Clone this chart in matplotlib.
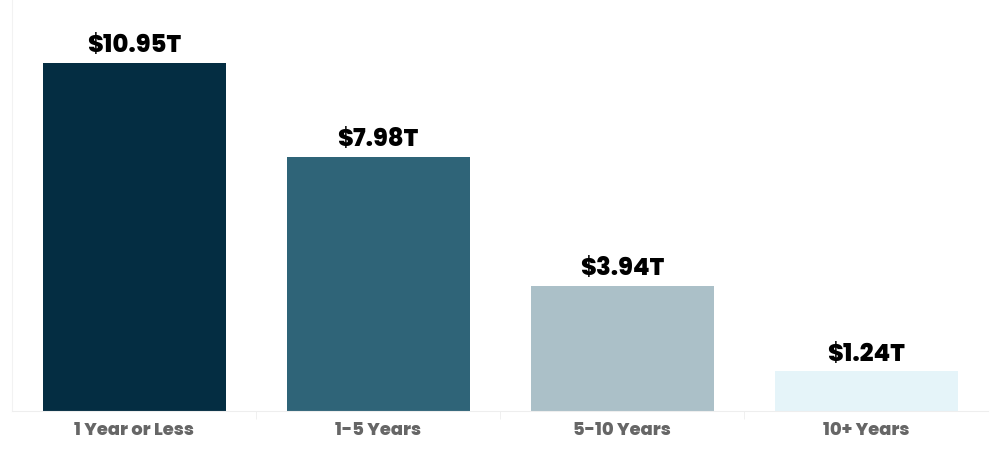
import matplotlib.pyplot as plt

categories = ["1 Year or Less", "1-5 Years", "5-10 Years", "10+ Years"]
values = [10.95, 7.98, 3.94, 1.24]
labels = ["$10.95T", "$7.98T", "$3.94T", "$1.24T"]
colors = ["#042d42", "#2f6478", "#abc0c8", "#e5f4f9"]

plt.rcParams['font.family'] = ['Poppins', 'Roboto', 'DejaVu Sans']

fig = plt.figure(figsize=(10, 4.5), dpi=100)
ax = fig.add_axes([0.012, 0.087, 0.976, 0.913])

x = range(len(categories))
bars = ax.bar(x, values, width=0.75, color=colors, zorder=2)
for b, lab in zip(bars, labels):
    ax.text(b.get_x() + b.get_width() / 2, b.get_height() + 0.12, lab,
            ha='center', va='bottom', fontsize=17.5, fontweight='heavy', color='black')

ax.set_xlim(-0.5, len(categories) - 0.5)
ax.set_ylim(0, 12.93)
ax.set_xticks(list(x))
ax.set_xticklabels(categories, fontsize=12.9, fontweight='heavy', color='#666666')
ax.set_xticks([i + 0.5 for i in range(len(categories) - 1)], minor=True)
ax.tick_params(axis='x', which='major', length=0, pad=8)
ax.tick_params(axis='x', which='minor', length=6, color='#eeeeee', direction='out')
ax.set_yticks([])
for s in ['top', 'right']:
    ax.spines[s].set_visible(False)
ax.spines['bottom'].set_color('#eeeeee')
ax.spines['left'].set_color('#f2f2f2')
ax.spines['left'].set_bounds(0, 12.93)

fig.savefig('out.png', dpi=100)
